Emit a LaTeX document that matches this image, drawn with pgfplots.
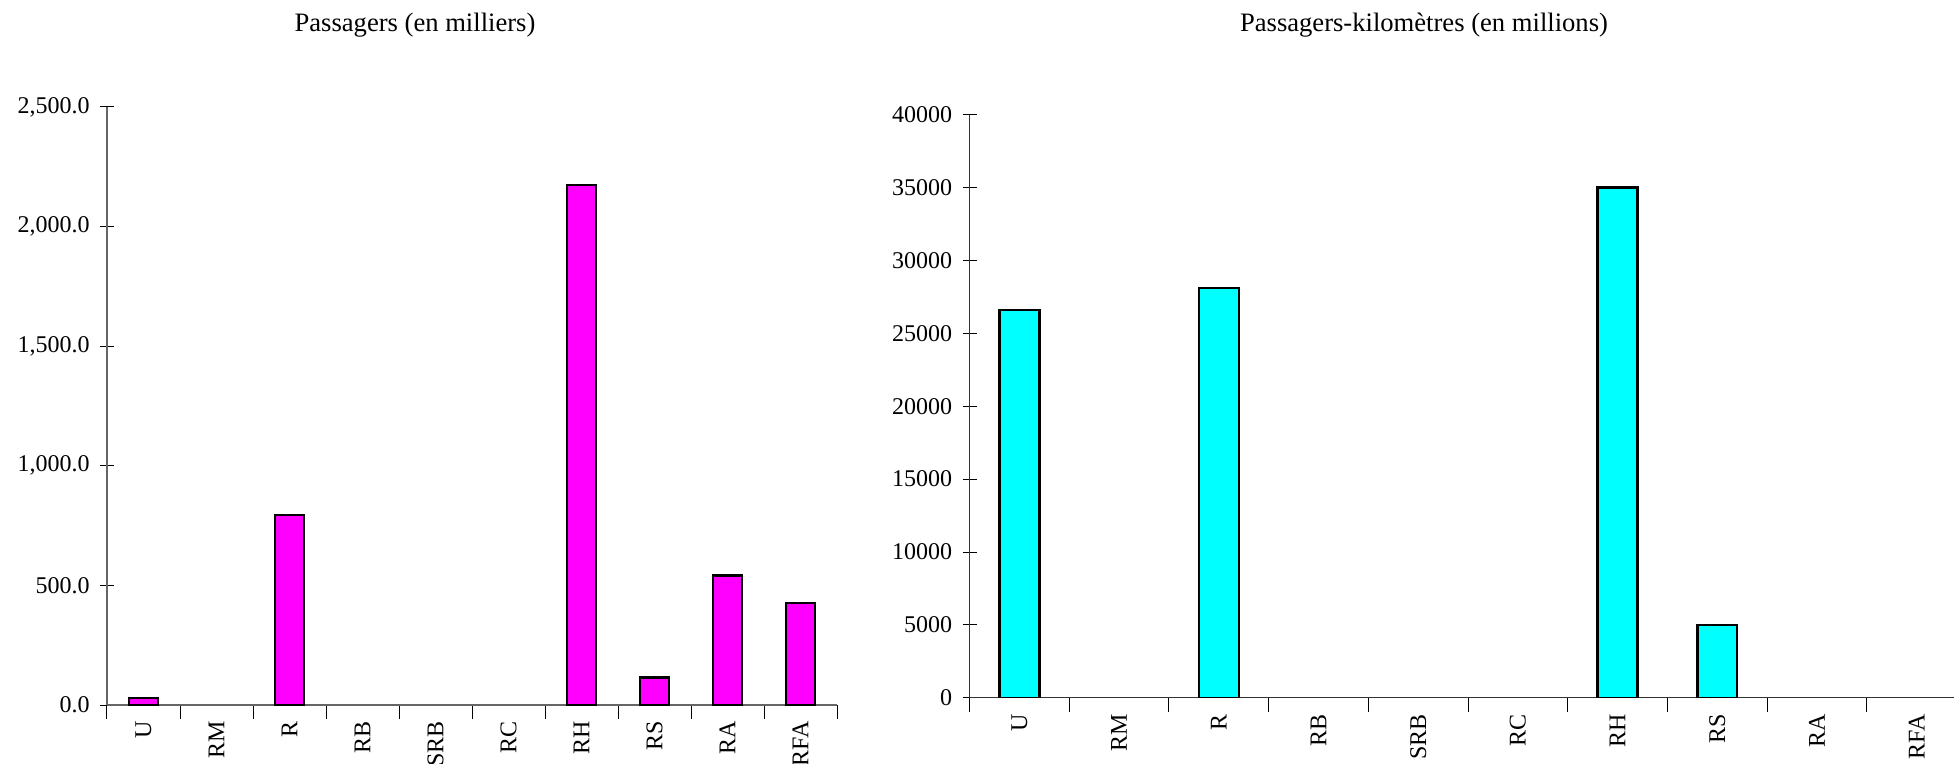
\documentclass[border=0pt]{standalone}
\usepackage{fontspec}
\setmainfont{Liberation Serif}
\usepackage{pgfplots}
\pgfplotsset{compat=1.18}
\begin{document}
\fontsize{12}{14}\selectfont
\begin{tikzpicture}
\useasboundingbox (0,0) rectangle (977pt,-382pt);
\pgfplotsset{
  common/.style={
    scale only axis,
    axis lines*=left,
    anchor=south west,
    xmin=-0.5,
    ymin=0,
    xtick={0,...,9},
    xticklabels={U,RM,R,RB,SRB,RC,RH,RS,RA,RFA},
    minor xtick={-0.5,0.5,...,9.5},
    every major x tick/.append style={draw=none},
    tick align=center,
    major tick length=7pt,
    minor tick length=7pt,
    tick style={black, line width=0.5pt},
    xticklabel style={rotate=90, anchor=east, font=\fontsize{12}{14}\selectfont},
    yticklabel style={font=\fontsize{12}{14}\selectfont},
    /pgf/number format/assume math mode=true,
    scaled y ticks=false,
    ybar,
    bar width=0.4,
    tick label style={inner sep=1pt},
  }
}
\begin{axis}[common,
  at={(53.5pt,-352.5pt)},
  width=365pt, height=299pt,
  xmax=9.5, ymax=2500,
  ytick={0,500,...,2500},
  axis line style={black!60, line width=0.6pt},
  yticklabel={\pgfmathprintnumber[fixed,fixed zerofill,precision=1,1000 sep={,}]{\tick}},
  yticklabel style={xshift=-4pt},
]
\addplot[fill={rgb,1:red,1;green,0;blue,1}, draw=black, line width=1.2pt] coordinates {
 (0,30) (2,795) (6,2175) (7,115) (8,542) (9,427)
};
\end{axis}
\begin{axis}[common,
  at={(484.8pt,-348.9pt)},
  width=492.2pt, height=291.6pt,
  xmax=9.375, ymax=40000,
  ytick={0,5000,...,40000},
  axis line style={black!80, line width=0.6pt},
  yticklabel={\pgfmathprintnumber[fixed,precision=0,1000 sep={}]{\tick}},
  yticklabel style={xshift=-4pt},
]
\addplot[fill={rgb,1:red,0;green,1;blue,1}, draw=black, line width=1.2pt] coordinates {
 (0,26600) (2,28100) (6,35000) (7,5000)
};
\end{axis}
\node[font=\fontsize{13.3}{15}\selectfont] at (207.5pt,-12.5pt) {Passagers (en milliers)};
\node[font=\fontsize{13.3}{15}\selectfont] at (712pt,-12.5pt) {Passagers-kilomètres (en millions)};
\end{tikzpicture}
\end{document}
